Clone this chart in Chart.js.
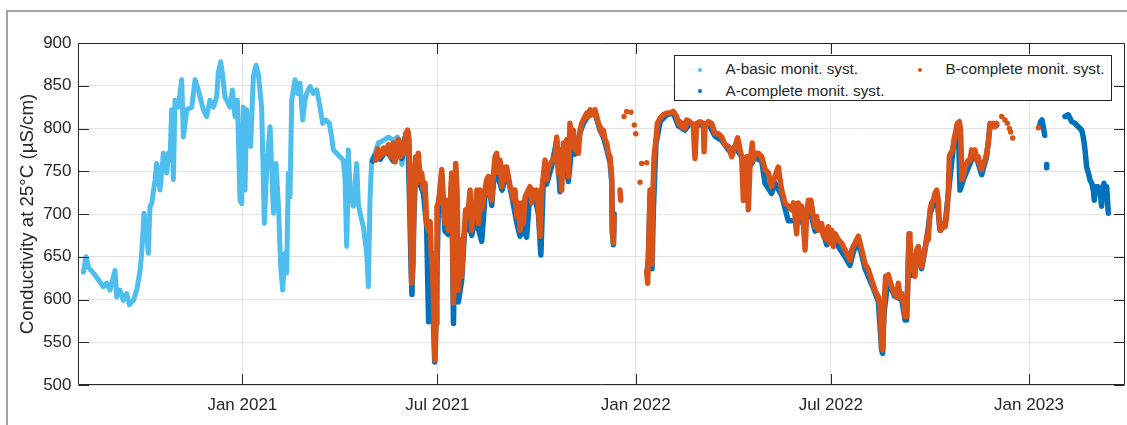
<!DOCTYPE html>
<html>
<head>
<meta charset="utf-8">
<title>Conductivity</title>
<script src="https://cdn.jsdelivr.net/npm/chart.js@4.4.0/dist/chart.umd.min.js"></script>
<style>
    html, body { margin: 0; padding: 0; background: #fff; overflow: hidden; }
    #wrap { position: relative; width: 1127px; height: 425px; font-family: 'Liberation Sans', Arial, Helvetica, sans-serif; }
    #frame { position: absolute; left: 6px; top: 10px; width: 1140px; height: 440px; border-top: 2px solid #a3a3a3; border-left: 2px solid #a3a3a3; }
    #chart { position: absolute; left: 0; top: 0; }
    #legend { position: absolute; left: 674px; top: 55px; width: 438px; height: 46px; box-sizing: border-box; border: 1px solid #262626; background: #fff; }
    .item { position: absolute; height: 20px; line-height: 20px; font-size: 15.3px; color: #262626; white-space: nowrap; }
    .dot { position: absolute; width: 4px; height: 4px; border-radius: 50%; }
</style>
</head>
<body>
<div id="wrap">
    <div id="frame"></div>
    <canvas id="chart" width="1127" height="425"></canvas>
    <div id="legend"></div>
</div>
<script>
// ========================================
// Data (x = days since 1 Jan 2021)
// ========================================

const xTickDays = [0, 181, 365, 546, 730];
const xTickLabels = ['Jan 2021', 'Jul 2021', 'Jan 2022', 'Jul 2022', 'Jan 2023'];
const yTicks = [500, 550, 600, 650, 700, 750, 800, 850, 900];

const seriesNames = ['A-basic monit. syst.', 'A-complete monit. syst.', 'B-complete monit. syst.'];
const seriesColors = ['#4DBEEE', '#0072BD', '#D95319'];

const basicDays = [
    -147.5, -145, -142.9, -138.2, -133.6, -129, -125.9, -122.8, -118.1, -116.6,
    -113.5, -110.4, -107.3, -104.8, -101.1, -98, -94.9, -93.4, -91.2, -88.8,
    -87.2, -85.7, -84.1, -81, -79.5, -76.4, -73.3, -70.2, -68.7, -67.1,
    -65.6, -64, -62.5, -59.4, -56.3, -54.7, -51.6, -47, -43.9, -40.8,
    -39.3, -36.2, -33.1, -30, -26.9, -23.8, -22.3, -20.1, -18.2, -16.1,
    -11.4, -9.3, -6.8, -4.6, -2.2, -0.6, 0.9, 2.5, 4, 5.6,
    7.7, 10.2, 12.7, 14.8, 17.9, 20.4, 22.6, 25.7, 28.8, 31.2,
    33.4, 35.6, 37.4, 39.6, 41.1, 42.7, 44.2, 45.8, 48.9, 51.3,
    53.5, 56, 58.1, 59.7, 62.8, 65.9, 69, 72.1, 74.5, 77.6,
    80.7, 82.9, 84.4, 87.5, 90.6, 93.7, 95.3, 96.8, 97.8, 98.3,
    99.9, 103, 106.1, 107.6, 109.2, 112.3, 115.4, 116.9, 117.8, 118.5,
    120, 123.1, 126.2, 130.8, 135.5, 140.1, 144, 146.3, 148, 150, 151
];
const basicValues = [
    632, 650, 638, 631, 623, 615, 619, 611, 634, 603,
    611, 599, 607, 594, 599, 611, 634, 654, 701, 677,
    654, 709, 712, 740, 759, 728, 771, 748, 771, 763,
    822, 740, 833, 825, 857, 790, 822, 825, 857, 845,
    837, 822, 814, 833, 825, 837, 866, 878, 861, 837,
    825, 845, 814, 833, 716, 712, 825, 728, 822, 783,
    779, 861, 874, 864, 825, 689, 755, 802, 701, 759,
    712, 638, 611, 654, 631, 748, 720, 833, 857, 841,
    853, 810, 833, 841, 849, 841, 845, 825, 806, 810,
    806, 790, 775, 771, 767, 763, 740, 662, 716, 775,
    732, 709, 759, 712, 701, 685, 654, 615, 677, 720,
    763, 771, 783, 786, 790, 786, 790, 784, 758, 778, 782
];

const completeADays = [
    121, 124, 128, 132, 136, 140, 144, 148, 151, 153.4,
    155, 156.5, 157.4, 159, 161, 164, 168, 171, 172.8, 174.5,
    176.5, 178.5, 180, 181.9, 185, 188, 191.2, 194.3, 195.9, 198,
    200.4, 203.5, 206, 209, 212.8, 215.9, 219, 222.1, 225.2, 228.3,
    231.4, 234.5, 237.5, 241, 245.3, 249.9, 254.6, 257.7, 260.7, 263.8,
    267, 271.6, 274.7, 277, 279.3, 282.4, 287, 291.7, 294.8, 297.9,
    302.5, 305.6, 308.7, 313.3, 316.4, 322.6, 327.2, 331.9, 335, 338.1,
    341.2, 342.7, 343.3, 344.3, 345, 360,
    375.2, 376.7, 378.3, 379.2, 380.1, 381.4, 383.8, 387.6, 393.7, 399.9,
    404.6, 410.7, 415.4, 421.6, 427.8, 432.4, 438.6, 444.8, 451, 457.1,
    461.8, 466.4, 471.1, 475.7, 481.9, 485, 491.1, 494.2, 500.4, 506.6,
    512.8, 516, 521, 525.2, 531.4, 537.5, 542.2, 546.8, 553, 559.2,
    563.8, 567, 571.6, 577.8, 583.9, 590.1, 593.2, 594.1, 595.4, 599.4,
    605, 611.8, 614.9, 616.4, 618.6, 621, 625.7, 630.3, 635, 638.1,
    641.2, 644.2, 647.3, 652, 655.1, 659.7, 664.3, 665.9, 669, 675.2,
    679.8, 684.5, 686, 690.6, 693.7, 699.9, 720,
    739.5, 740.7, 742, 743.2, 744.5, 745.5, 746.3, 746.4, 755,
    763.3, 766.4, 769.5, 772.6, 775.7, 778.8, 780.3, 781.9, 783.4, 785,
    786.5, 788.1, 789.6, 790.5, 791.8, 794.2, 795.8, 797.3, 798.3, 799.5,
    800.7, 802, 803.5
];
const completeAValues = [
    762, 770, 764, 772, 770, 762, 778, 765, 790, 795,
    722, 640, 606, 690, 762, 738, 724, 686, 574, 640,
    605, 527, 600, 708, 746, 680, 676, 740, 572, 752,
    597, 622, 676, 694, 675, 692, 683, 668, 722, 738,
    710, 762, 742, 728, 750, 722, 690, 674, 685, 673,
    728, 720, 700, 652, 740, 735, 756, 786, 726, 776,
    738, 778, 770, 795, 806, 818, 818, 798, 790, 776,
    760, 738, 680, 664, 700, null,
    630, 645, 722, 665, 636, 706, 782, 808, 816, 818,
    803, 798, 806, 804, 804, 806, 791, 786, 775, 778,
    770, 760, 756, 766, 762, 736, 724, 736, 722, 692,
    692, 706, 686, 712, 680, 684, 664, 676, 662, 650,
    640, 656, 668, 636, 618, 598, 541, 537, 585, 624,
    604, 600, 576, 576, 672, 628, 654, 636, 670, 700,
    712, 724, 681, 687, 724, 778, 802, 728, 740, 759,
    772, 752, 746, 767, 802, 804, null,
    802, 808, 810, 802, 792, null, 758, 754, null,
    814, 816, 808, 806, 802, 798, 790, 775, 755, 748,
    740, 736, 728, 716, 732, 732, 728, 709, 724, 736,
    720, 732, 701
];

const completeBDays = [
    123.7, 125.6, 127.8, 130.9, 133, 135.5, 138, 140.1, 141.7, 143.2,
    144.8, 146.3, 147.9, 150.3, 151.6, 153.4, 154.7, 155.6, 156.5, 157.1,
    158.4, 159.6, 160.9, 161.8, 163.3, 164.9, 166.4, 168, 169.5, 171.1,
    172.6, 174.2, 175.1, 176.3, 177.2, 178.2, 178.8, 179.7, 180.6, 181.9,
    183.4, 185, 186.5, 188.1, 189.6, 191.2, 192.7, 194.3, 195.8, 196.7,
    198, 199.2, 200.4, 202, 203.5, 205.1, 206, 207.2, 209.1, 211.3,
    212.8, 214.4, 215.9, 217.5, 219, 220.5, 222.1, 223.6, 225.2, 226.7,
    228.3, 229.8, 231.4, 232.9, 234.5, 236, 237.5, 239.1, 240.6, 242.2,
    243.7, 245.3, 246.8, 248.4, 249.9, 251.5, 253, 254.6, 256.1, 257.7,
    259.2, 260.7, 262.3, 265.4, 266.9, 268.5, 270, 271.6, 273.1, 274.7,
    276.2, 277.8, 279.3, 280.9, 282.4, 283.9, 287, 290.1, 291.7, 293.2,
    294.8, 296.3, 297.9, 299.4, 301, 302.5, 304, 305.6, 307.1, 308.7,
    310.2, 311.8, 313.3, 314.9, 316.4, 319.5, 321.1, 322.6, 324.1, 325.7,
    327.2, 328.8, 330.3, 331.9, 333.4, 335, 336.5, 338.1, 339.6, 341.2,
    342.7, 343.3, 344.3, 344.9, 347,
    350.4, 351.1, 352.5, 354.2, 355.4, 356.6, 358.6, 360.6, 362, 363.7,
    364.3, 365, 367, 369, 369.7, 370.5, 373, 375.2, 375.2,
    375.2, 376.1, 376.7, 377.7, 378.3, 379.2, 380.1, 380.7, 382, 383.8,
    385.1, 387.6, 390.6, 393.7, 396.8, 399.9, 403, 404.6, 406.1, 407.7,
    409.2, 410.7, 412.3, 415.4, 418.5, 420, 421.6, 424.7, 427.8, 428.4,
    429.3, 432.4, 435.5, 438.6, 441.7, 444.8, 447.9, 451, 454.1, 457.1,
    459.6, 461.8, 463.3, 464.9, 466.4, 468, 469.5, 471.1, 473.2, 474.1,
    475.7, 478.8, 481.9, 485, 488.1, 491.1, 494.2, 497.3, 498.9, 500.4,
    503.5, 506.6, 509.7, 511.3, 512.8, 514.3, 515.9, 517.4, 519, 520.5,
    522.1, 523.6, 525.2, 527.6, 529.8, 531.4, 532.9, 534.4, 537.5, 539.1,
    540.6, 542.2, 543.7, 545.3, 546.8, 548.4, 549.9, 553, 556.1, 559.2,
    562.3, 563.8, 565.4, 566.9, 570, 571.6, 574.7, 577.8, 580.8, 583.9,
    587, 590.1, 591.7, 593.2, 594.1, 595.4, 596.9, 599.4, 602.5, 605,
    607.1, 608.7, 610.2, 611.8, 613.3, 614.9, 616.4, 617.3, 618.6, 619.5,
    621, 622.6, 624.1, 625.7, 627.2, 628.8, 630.3, 633.4, 635, 636.5,
    638.1, 639.6, 641.2, 642.7, 644.2, 645.8, 646.7, 648, 650.4, 652,
    653.5, 655.1, 656, 657.2, 659.1, 660.3, 662.2, 663.4, 665.3, 666.5,
    667.7, 669, 670.5, 672.1, 673.6, 675.2, 676.7, 678.3, 679.8, 681.4,
    682.9, 684.5, 686, 687.5, 689.1, 690.6, 692.2, 693.7, 695.3, 696.8,
    698.4, 699.9, 702,
    704.6, 706, 707.6, 708.7, 709.8, 710.8, 711.7, 712.3, 712.9, 713.8,
    714.8, 720, 738.6
];
const completeBValues = [
    763, 776, 767, 777, 771, 781, 767, 783, 761, 777,
    787, 767, 783, 771, 794, 798, 787, 716, 670, 619,
    642, 748, 767, 736, 771, 740, 748, 728, 736, 689,
    681, 691, 658, 635, 611, 549, 529, 572, 709, 713,
    728, 752, 713, 689, 716, 681, 705, 748, 596, 627,
    759, 728, 611, 670, 627, 666, 681, 705, 697, 728,
    681, 709, 697, 728, 689, 728, 705, 716, 728, 740,
    744, 724, 716, 744, 767, 771, 748, 763, 732, 755,
    740, 755, 744, 732, 728, 716, 728, 697, 713, 681,
    713, 689, 720, 728, 732, 713, 728, 724, 728, 709,
    674, 728, 744, 763, 740, 755, 761, 767, 790, 748,
    775, 728, 783, 755, 787, 744, 806, 783, 798, 775,
    783, 771, 798, 806, 810, 818, 814, 822, 816, 818,
    822, 814, 806, 802, 794, 798, 787, 783, 771, 767,
    744, 681, 666, 697, null,
    728, 716, null, 814, null, 820, null, 819, null, 804,
    null, 794, null, 737, null, 759, null, 760, null,
    633, 619, 650, 689, 728, 670, 642, 709, 767, 787,
    806, 812, 816, 818, 818, 820, 814, 806, 808, 802,
    806, 800, 810, 808, 802, 765, 806, 808, 806, 773,
    802, 808, 806, 794, 794, 790, 781, 779, 767, 779,
    789, 775, 767, 716, 763, 767, 705, 759, 783, 763,
    771, 771, 767, 752, 748, 732, 744, 755, 740, 728,
    713, 709, 705, 713, 697, 677, 713, 697, 709, 689,
    658, 697, 716, 716, 697, 685, 697, 681, 689, 674,
    681, 670, 685, 666, 681, 662, 677, 670, 666, 658,
    650, 646, 658, 662, 670, 674, 658, 642, 635, 623,
    611, 603, 592, 549, 541, 592, 627, 629, 615, 607,
    603, 619, 603, 607, 596, 580, 580, 611, 677, 670,
    635, 642, 627, 658, 662, 650, 638, 658, 674, 670,
    705, 713, 716, 724, 728, 716, 689, 681, 689, 685,
    697, 728, 767, 771, 775, 787, 798, 806, 808, 798,
    740, 744, 755, 759, 763, 763, 775, 771, 775, 763,
    767, 755, 752, 759, 763, 771, 783, 806, 802, 806,
    802, 806, null,
    814, null, 810, null, 806, null, 800, null, 796, null,
    789, null, 801
];

// ========================================
// Chart
// ========================================

const textColor = '#262626';
const fontFamily = "'Liberation Sans', Arial, Helvetica, sans-serif";

function toPoints(days, values) {
    return days.map((d, i) => ({ x: d, y: values[i] }));
}

// box around the axes and inward tick marks, like the original figure
const axesBoxPlugin = {
    id: 'axesBox',
    afterDatasetsDraw(chart) {
        const { ctx, chartArea: a, scales } = chart;
        const tickLen = 10.5;
        const left = Math.round(a.left) + 0.5;
        const right = Math.round(a.right) - 0.5;
        const top = Math.round(a.top) + 0.5;
        const bottom = Math.round(a.bottom) - 0.5;
        ctx.save();
        ctx.strokeStyle = textColor;
        ctx.lineWidth = 1;
        ctx.beginPath();
        ctx.rect(left, top, right - left, bottom - top);
        xTickDays.forEach(d => {
            const px = Math.round(scales.x.getPixelForValue(d)) + 0.5;
            ctx.moveTo(px, bottom); ctx.lineTo(px, bottom - tickLen);
            ctx.moveTo(px, top); ctx.lineTo(px, top + tickLen);
        });
        yTicks.forEach(v => {
            const py = Math.round(scales.y.getPixelForValue(v)) + 0.5;
            ctx.moveTo(left, py); ctx.lineTo(left + tickLen, py);
            ctx.moveTo(right, py); ctx.lineTo(right - tickLen, py);
        });
        ctx.stroke();
        ctx.restore();
    }
};

function seriesStyle(index, width, radius, order) {
    return {
        label: seriesNames[index],
        showLine: true,
        borderColor: seriesColors[index],
        backgroundColor: seriesColors[index],
        borderWidth: width,
        borderJoinStyle: 'round',
        borderCapStyle: 'round',
        pointRadius: radius,
        pointBorderWidth: 0,
        pointHoverRadius: 0,
        spanGaps: false,
        order: order
    };
}

new Chart(document.getElementById('chart'), {
    type: 'scatter',
    data: {
        datasets: [
            Object.assign(seriesStyle(0, 5, 0, 2), { data: toPoints(basicDays, basicValues) }),
            Object.assign(seriesStyle(1, 5.5, 2, 1), { data: toPoints(completeADays, completeAValues) }),
            Object.assign(seriesStyle(2, 5.5, 1.8, 0), { data: toPoints(completeBDays, completeBValues) })
        ]
    },
    options: {
        responsive: false,
        animation: false,
        layout: { padding: { top: 43, right: 2, left: 0, bottom: 0 } },
        plugins: {
            legend: { display: false },
            tooltip: { enabled: false }
        },
        scales: {
            x: {
                type: 'linear',
                min: -152.5,
                max: 819,
                afterBuildTicks: scale => { scale.ticks = xTickDays.map(v => ({ value: v })); },
                afterFit: scale => { scale.height = 40; },
                grid: { color: '#e3e3e3', drawTicks: false },
                border: { display: false },
                ticks: {
                    autoSkip: false,
                    maxRotation: 0,
                    padding: 10,
                    color: textColor,
                    font: { family: fontFamily, size: 17 },
                    callback: (value, index) => xTickLabels[index]
                }
            },
            y: {
                min: 500,
                max: 900,
                afterBuildTicks: scale => { scale.ticks = yTicks.map(v => ({ value: v })); },
                afterFit: scale => { scale.width = 78; },
                grid: { color: '#e3e3e3', drawTicks: false },
                border: { display: false },
                ticks: {
                    padding: 6.5,
                    color: textColor,
                    font: { family: fontFamily, size: 17 }
                },
                title: {
                    display: true,
                    text: 'Conductivity at 25°C (µS/cm)',
                    color: textColor,
                    font: { family: fontFamily, size: 18.7, lineHeight: 1.2 },
                    padding: { top: 17, bottom: 0 }
                }
            }
        }
    },
    plugins: [axesBoxPlugin]
});

// ========================================
// Legend (two columns, column-major)
// ========================================

function buildLegend() {
    const legend = document.getElementById('legend');
    const slots = [
        { x: 0, y: 0 },
        { x: 0, y: 1 },
        { x: 1, y: 0 }
    ];
    seriesNames.forEach((name, i) => {
        const colLeft = slots[i].x === 0 ? 0 : 220;
        const rowTop = slots[i].y === 0 ? 3 : 24.5;
        const dot = document.createElement('div');
        dot.className = 'dot';
        dot.style.background = seriesColors[i];
        dot.style.left = (colLeft + 23) + 'px';
        dot.style.top = (rowTop + 8.5) + 'px';
        legend.appendChild(dot);
        const item = document.createElement('div');
        item.className = 'item';
        item.style.left = (colLeft + 50.5) + 'px';
        item.style.top = rowTop + 'px';
        item.textContent = name;
        legend.appendChild(item);
    });
}

buildLegend();
</script>
</body>
</html>
